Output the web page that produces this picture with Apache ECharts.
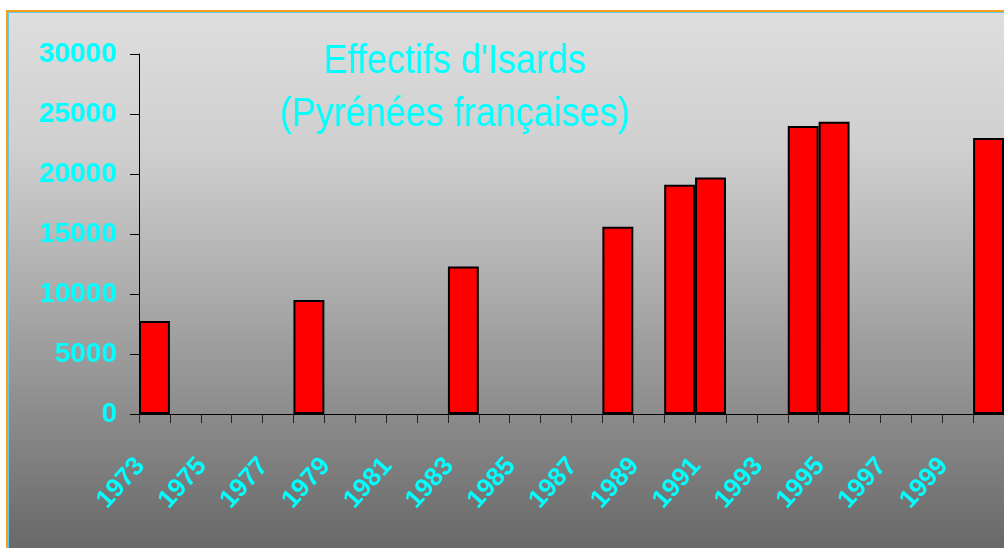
<!DOCTYPE html>
<html>
<head>
<meta charset="utf-8">
<script src="https://cdn.jsdelivr.net/npm/echarts@6/dist/echarts.min.js"></script>
<style>
html,body{margin:0;padding:0;background:#fff;}
#c{width:1004px;height:548px;}
</style>
</head>
<body>
<div id="c"></div>
<script>
// Data
const years = ['1973','1974','1975','1976','1977','1978','1979','1980','1981','1982','1983','1984','1985','1986','1987','1988','1989','1990','1991','1992','1993','1994','1995','1996','1997','1998','1999','2000'];
const effectifs = [7750,'-','-','-','-',9500,'-','-','-','-',12300,'-','-','-','-',15600,'-',19100,19700,'-','-',24000,24350,'-','-','-','-',23000];
const yTicks = [0,5000,10000,15000,20000,25000,30000];
const titleLines = ["Effectifs d'Isards", "(Pyrénées françaises)"];

const chart = echarts.init(document.getElementById('c'), null, {renderer:'canvas'});
const cyan = '#00ffff';
const fam = "Arial, 'Liberation Sans', sans-serif";

chart.setOption({
  animation:false,
  backgroundColor:'#ffffff',
  graphic:[
    {type:'rect', z:-10, silent:true,
     shape:{x:7, y:11, width:1010, height:560},
     style:{fill:new echarts.graphic.LinearGradient(0,0,0,1,[
        {offset:0,color:'#dedede'},
        {offset:0.25,color:'#cfcfcf'},
        {offset:0.5,color:'#acacac'},
        {offset:0.75,color:'#878787'},
        {offset:1,color:'#626262'}
     ]), stroke:'#f5a01a', lineWidth:2}},
    {type:'rect', z:-9, silent:true,
     shape:{x:8.5, y:12.5, width:1010, height:560},
     style:{fill:null, stroke:'#5ec8ee', lineWidth:1}},
    {type:'text', x:455, y:62, scaleY:1.15, z:10,
     style:{text:titleLines[0], fill:cyan, font:'36px '+fam, textAlign:'center', textVerticalAlign:'middle'}},
    {type:'text', x:455, y:115, scaleY:1.15, z:10,
     style:{text:titleLines[1], fill:cyan, font:'36px '+fam, textAlign:'center', textVerticalAlign:'middle'}}
  ],
  grid:{left:139, right:0, top:54, bottom:134, containLabel:false},
  xAxis:{
    type:'category', data:years, boundaryGap:true,
    axisLine:{lineStyle:{color:'#000', width:1}},
    axisTick:{show:true, interval:0, length:9, lineStyle:{color:'#222', width:1}},
    axisLabel:{interval:1, rotate:48, margin:32, color:cyan, fontWeight:'bold', fontSize:26, fontFamily:fam, padding:[0,21,0,0]}
  },
  yAxis:{
    type:'value', min:0, max:30000, interval:5000,
    axisLine:{show:true, lineStyle:{color:'#000', width:1}},
    axisTick:{show:true, length:9, inside:false, lineStyle:{color:'#000'}},
    splitLine:{show:false},
    axisLabel:{margin:22, color:cyan, fontWeight:'bold', fontSize:28, fontFamily:fam,
      formatter:function(v){return yTicks.indexOf(v)>=0 ? String(v) : '';}}
  },
  series:[{
    type:'bar', data:effectifs, barCategoryGap:'0%',
    itemStyle:{color:'#ff0000', borderColor:'#000', borderWidth:2}
  }]
});
</script>
</body>
</html>
